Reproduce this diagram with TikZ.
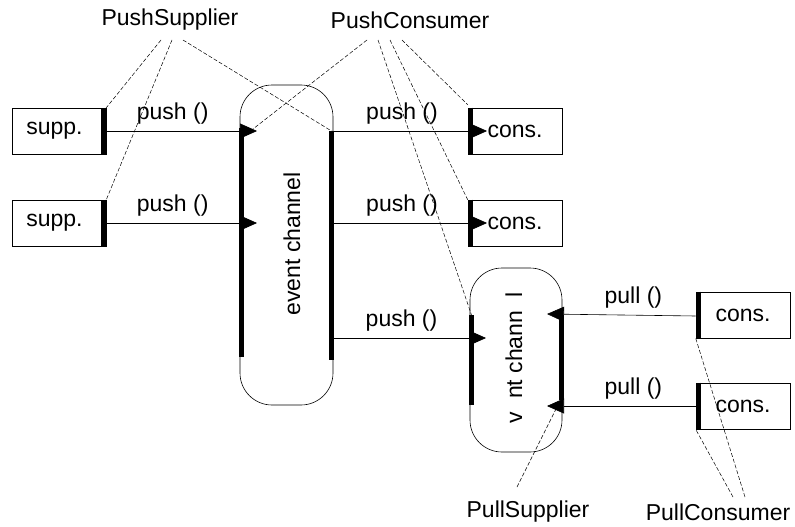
\documentclass[tikz,border=0pt]{standalone}
\usepackage{fontspec}
\setmainfont{Liberation Sans}
\usetikzlibrary{arrows.meta}
\begin{document}
\begin{tikzpicture}[x=1pt,y=-1pt,
  lbl/.style={font=\fontsize{23}{26}\selectfont, inner sep=0pt},
  box/.style={draw, line width=0.6pt, minimum width=94pt, minimum height=46pt, inner sep=0pt, font=\fontsize{23}{26}\selectfont},
  chan/.style={draw, line width=0.6pt, rounded corners=32pt, inner sep=0pt},
  bar/.style={line width=5pt},
  msg/.style={line width=0.6pt, -{Triangle[length=17pt,width=15pt]}},
  dsh/.style={line width=0.5pt, dash pattern=on 4pt off 2pt}]
\useasboundingbox (0,0) rectangle (795,527);

% labels
\node[lbl] (pushsup) at (170,20) {PushSupplier};
\node[lbl] (pushcon) at (410,20) {PushConsumer};
\node[lbl] (pullsup) at (528,512) {PullSupplier};
\node[lbl] (pullcon) at (718,512) {PullConsumer};

% channels
\node[chan, minimum width=93pt, minimum height=320pt] (ec) at (286.5,245) {};
\node[lbl, rotate=90] (ectext) at (292,244) {event channel};
\node[chan, minimum width=92pt, minimum height=184pt] (ec2) at (516,360) {};
\node[lbl, rotate=90] (ec2text) at (514,358) {v\ \ nt chann\ \ l};

% boxes
\node[box] (supp1) at (59,131) {supp.\hspace*{9pt}};
\node[box] (supp2) at (59,223) {supp.\hspace*{9pt}};
\node[box] (cons1) at (515,131) {cons.};
\node[box] (cons2) at (515,223) {cons.};
\node[box] (cons3) at (743,315) {cons.};
\node[box] (cons4) at (743,406) {cons.};

% bars
\draw[bar] ([xshift=-2.5pt]supp1.north east) -- ([xshift=-2.5pt]supp1.south east);
\draw[bar] ([xshift=-2.5pt]supp2.north east) -- ([xshift=-2.5pt]supp2.south east);
\draw[bar] ([xshift=2.5pt]cons1.north west) -- ([xshift=2.5pt]cons1.south west);
\draw[bar] ([xshift=2.5pt]cons2.north west) -- ([xshift=2.5pt]cons2.south west);
\draw[bar] ([xshift=2.5pt]cons3.north west) -- ([xshift=2.5pt]cons3.south west);
\draw[bar] ([xshift=2.5pt]cons4.north west) -- ([xshift=2.5pt]cons4.south west);
\coordinate (ecLt) at (241.5,128);
\coordinate (ecLb) at (241.5,357);
\coordinate (ecRt) at (331.5,131);
\coordinate (ecRb) at (331.5,360);
\draw[bar] (ecLt) -- (ecLb);
\draw[bar] (ecRt) -- (ecRb);
\coordinate (ec2Lt) at (471.5,315);
\coordinate (ec2Lb) at (471.5,405);
\coordinate (ec2Rt) at (561,315);
\coordinate (ec2Rb) at (561,400);
\draw[bar] (ec2Lt) -- (ec2Lb);
\draw[bar] (ec2Rt) -- (ec2Rb);

% message arrows
\coordinate (in1) at (257,131);
\coordinate (in2) at (257,223);
\coordinate (out1) at (333,131);
\coordinate (out2) at (333,223);
\coordinate (out3) at (333,338);
\coordinate (tc1) at (487,131);
\coordinate (tc2) at (487,223);
\coordinate (tc3) at (486,338);
\coordinate (pl1) at (547,314);
\coordinate (pl2) at (547,406);
\draw[msg] (supp1.east) -- node[lbl, above=6pt, xshift=-9pt] (m1) {push ()} (in1);
\draw[msg] (supp2.east) -- node[lbl, above=6pt, xshift=-9pt] (m2) {push ()} (in2);
\draw[msg] (out1) -- node[lbl, above=6pt, xshift=-8pt] (m3) {push ()} (tc1);
\draw[msg] (out2) -- node[lbl, above=6pt, xshift=-8pt] (m4) {push ()} (tc2);
\draw[msg] (out3) -- node[lbl, above=6pt, xshift=-8pt] (m5) {push ()} (tc3);
\draw[msg] ([yshift=-1pt]cons3.west) -- node[lbl, above=6pt, xshift=12pt] (m6) {pull ()} (pl1);
\draw[msg] (cons4.west) -- node[lbl, above=6pt, xshift=12pt] (m7) {pull ()} (pl2);

% dashed references
\coordinate (ps1) at (161,40);
\coordinate (ps2) at (172,40);
\coordinate (ps3) at (183,40);
\coordinate (pc1) at (367,40);
\coordinate (pc2) at (378,40);
\coordinate (pc3) at (390,40);
\coordinate (pc4) at (402,40);
\coordinate (ls1) at (517,487);
\coordinate (lc1) at (733,497);
\coordinate (lc2) at (745,497);
\draw[dsh] (ps1) -- (supp1.north east);
\draw[dsh] (ps2) -- (supp2.north east);
\draw[dsh] (ps3) -- (ecRt);
\draw[dsh] (pc1) -- (244,136);
\draw[dsh] (pc2) -- (ec2Lt);
\draw[dsh] (pc3) -- (cons2.north west);
\draw[dsh] (pc4) -- ([yshift=3pt]cons1.north west);
\draw[dsh] (ls1) -- (557,407);
\draw[dsh] (lc1) -- (cons4.south west);
\draw[dsh] (lc2) -- (cons3.south west);
\end{tikzpicture}
\end{document}
